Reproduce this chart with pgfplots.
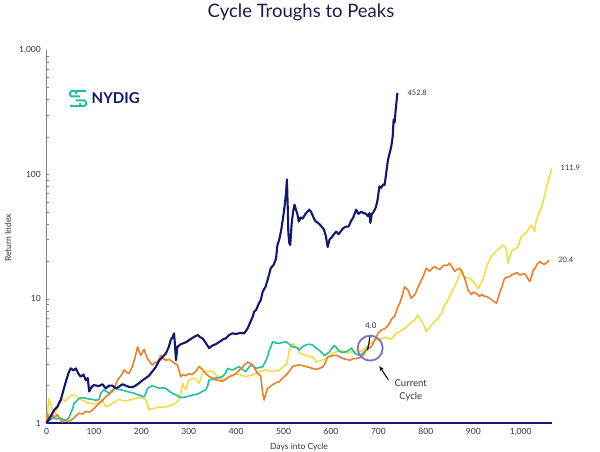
\documentclass[border=0pt]{standalone}
\usepackage{pgfplots}
\pgfplotsset{compat=1.18}
\usepackage{pgfplotstable}
\usetikzlibrary{arrows.meta}
\usepackage{fontspec}
\setmainfont{Lato}
\definecolor{cnavy}{HTML}{14186A}
\definecolor{corange}{HTML}{E8812E}
\definecolor{cyellow}{HTML}{F3DC4C}
\definecolor{cteal}{HTML}{22BFA3}
\definecolor{cpurple}{HTML}{7D70CF}
\definecolor{ctitle}{HTML}{1C1B4A}
\definecolor{ctick}{HTML}{333333}

\pgfplotstableread{
x y
0 1.0
8 1.12
16 1.27
23 1.35
30 1.53
40 2.1
46 2.5
51 2.75
57 2.65
62 2.75
67 2.5
72 2.36
78 2.45
83 2.2
87 2.3
90 1.79
95 1.95
100 2.02
110 1.98
118 2.05
125 1.9
132 2.0
139 2.0
146 1.9
153 1.96
160 2.05
167 2.0
174 1.95
181 1.94
188 2.0
195 2.09
202 2.2
209 2.29
216 2.4
223 2.59
230 2.8
238 3.2
245 3.4
252 3.64
258 4.1
262 4.65
266 4.9
269 5.26
271 4.2
273 3.2
276 4.1
283 4.3
290 4.4
296 4.5
301 4.65
310 4.9
319 5.1
324 4.9
329 4.8
336 4.4
343 4.0
350 4.2
357 4.3
365 4.5
372 4.7
378 4.8
385 5.1
392 5.26
400 5.2
408 5.3
417 5.26
424 5.76
430 6.5
435 7.2
438 7.9
442 8.1
447 9.0
452 9.8
456 11.4
462 12.5
467 14.5
473 17.6
479 18.7
484 21
487 27
491 30
495 35.7
499 45
502 55
505 70
507 91
509 50
510 33.6
512 28
514 27
517 40
520 50
523 57
526 52
529 48
532 41.7
536 45
540 44
546 48
550 50
554 52
558 50
563 45
567 42
571 41
575 40
580 38
585 36
589 32
593 26
597 30
601 31
606 33
611 34.6
616 33
621 35
626 37
632 38
637 38
642 42
647 45
653 52
658 48
663 50
668 49
674 48
678 46
681 48.7
683 40.7
686 48
690 50
695 55
698 62
700 70
702 80
706 78
710 83
713 82
716 100
720 130
724 150
727 167
730 200
732 275
734 260
736 318
738 380
740 452.8
}\navy

\pgfplotstableread{
x y
0 1.0
2 1.2
5 1.1
9 1.09
14 1.15
18 1.12
23 1.17
28 1.08
33 1.02
40 1.05
47 1.02
52 1.06
57 1.09
63 1.15
69 1.2
76 1.18
83 1.24
90 1.22
97 1.27
104 1.35
111 1.44
118 1.52
125 1.63
132 1.7
139 1.79
144 1.95
150 2.22
157 2.4
164 2.67
169 2.55
174 2.5
178 2.7
181 2.84
186 3.3
190 3.8
192 4.1
196 3.7
199 3.5
203 3.8
206 3.9
210 3.5
213 3.3
218 3.1
223 2.93
228 3.05
234 3.1
238 3.3
241 3.5
246 3.3
252 3.2
259 3.25
266 3.1
271 3.0
276 2.93
280 2.6
283 2.36
288 2.45
294 2.4
300 2.5
305 2.45
310 2.5
315 2.6
319 2.75
322 2.85
326 2.75
329 2.7
336 2.5
343 2.36
350 2.3
357 2.22
364 2.2
371 2.16
378 2.25
385 2.36
392 2.4
400 2.5
408 2.7
413 2.8
417 2.93
421 3.0
424 3.1
430 3.0
435 2.93
440 2.7
445 2.5
449 2.45
452 2.36
454 2.0
456 1.73
459 1.53
462 1.7
466 1.9
471 1.95
476 2.02
483 2.1
491 2.15
498 2.3
505 2.43
512 2.6
519 2.84
526 2.9
533 2.93
540 2.9
547 2.84
554 2.8
561 2.75
568 2.7
575 2.75
581 2.8
586 2.93
590 3.2
593 3.4
600 3.45
606 3.5
612 3.5
618 3.4
625 3.3
632 3.25
640 3.2
647 3.3
654 3.3
660 3.35
664 3.4
670 3.6
674 3.86
680 4.0
685 4.1
690 4.5
695 4.9
700 5.3
706 5.6
712 5.7
717 5.9
723 6.3
728 6.9
734 7.2
741 8.6
745 9.2
750 10.5
755 12.5
759 12.0
762 11.8
766 10.8
769 10.1
774 10.5
778 11.0
784 12.5
790 14
794 15
798 16.5
801 17.6
805 17.0
808 16.6
813 17.5
818 18.1
823 17.6
829 17.2
834 18.0
839 18.6
845 18.5
850 19.3
855 18.0
861 16.6
866 17.2
871 17.6
876 16.5
882 14.6
886 12.8
889 11.7
893 11.2
896 10.8
901 11.3
906 11.0
910 10.7
913 10.4
918 10.8
922 10.5
927 10.4
933 10.2
938 9.8
943 9.5
949 9.2
952 10.0
955 11.0
959 12.1
963 13.5
966 14.6
970 14.8
976 15.0
981 15.5
987 15.9
992 16.2
998 15.5
1003 15.7
1008 15.9
1013 15.0
1016 14.3
1019 13.7
1023 15.2
1026 16.9
1030 17.5
1035 19.0
1040 19.9
1045 19.2
1050 18.9
1055 19.5
1060 20.4
}\orange

\pgfplotstableread{
x y
0 1.0
3 1.3
5 1.58
8 1.45
12 1.3
16 1.25
19 1.2
24 1.4
30 1.58
35 1.55
40 1.5
47 1.6
54 1.68
60 1.66
65 1.62
72 1.55
79 1.5
86 1.45
93 1.44
100 1.42
107 1.44
113 1.5
118 1.55
121 1.45
125 1.35
132 1.38
139 1.44
146 1.5
153 1.55
160 1.52
167 1.5
174 1.53
181 1.55
188 1.58
195 1.6
202 1.58
209 1.55
213 1.4
216 1.27
220 1.3
223 1.3
230 1.32
238 1.35
245 1.33
252 1.35
259 1.38
266 1.4
273 1.45
280 1.55
284 1.8
287 2.09
290 1.95
294 1.85
298 2.1
301 2.22
306 2.25
312 2.3
317 2.2
322 2.09
326 2.3
329 2.59
335 2.6
340 2.59
345 2.62
350 2.59
357 2.45
364 2.3
371 2.25
378 2.22
385 2.35
392 2.45
399 2.47
406 2.45
413 2.4
420 2.36
428 2.4
435 2.45
442 2.52
449 2.59
456 2.62
463 2.67
470 2.63
477 2.59
484 2.62
491 2.67
498 2.8
505 2.93
509 3.3
512 3.86
515 4.1
519 4.37
522 4.25
526 4.1
530 4.0
533 3.64
540 3.58
547 3.5
554 3.45
561 3.4
565 3.3
568 3.1
575 3.15
582 3.2
589 3.3
596 3.45
604 3.64
611 3.75
618 3.86
625 3.75
632 3.64
639 3.7
646 3.75
653 3.75
661 3.75
668 3.9
675 4.1
681 4.3
687 4.45
694 4.7
700 4.6
706 4.75
711 4.85
716 4.9
721 4.8
727 4.7
732 5.0
737 5.26
744 5.4
751 5.6
758 5.9
766 6.3
771 6.5
776 6.7
780 7.1
783 7.4
787 7.0
790 6.6
794 6.3
798 5.8
801 5.43
805 5.7
811 6.1
816 6.4
822 6.7
828 7.2
833 7.6
836 8.1
840 8.9
845 9.5
850 10.4
857 11.8
864 13.3
870 15.2
875 17.0
878 15.5
882 14.6
887 14.8
892 14.6
898 14.0
903 13.3
907 12.6
910 12.0
915 13.0
920 14.0
924 16.0
928 18.1
933 20.0
938 21.8
945 23.5
952 24.7
958 26.0
963 27.0
967 26.0
970 24.7
973 19.3
976 21.0
980 23.5
983 24.7
988 25.0
994 26.0
998 29.0
1001 31.5
1006 32.5
1012 34.0
1017 36.5
1022 39.0
1026 37.0
1029 34.9
1033 43.0
1038 48.0
1044 55.0
1048 62.0
1051 70.0
1055 80.0
1058 90.0
1062 100
1065 111.9
}\yellow

\pgfplotstableread{
x y
0 1.0
7 1.05
14 1.1
21 1.08
28 1.1
35 1.07
42 1.05
47 1.1
51 1.2
55 1.3
58 1.44
63 1.5
69 1.58
76 1.6
83 1.58
90 1.56
97 1.55
104 1.52
111 1.55
114 1.73
118 1.8
121 1.85
126 1.8
132 1.73
137 1.8
143 1.9
150 1.88
157 1.85
164 1.82
171 1.79
178 1.76
186 1.73
190 1.7
195 1.68
200 1.65
206 1.62
210 1.75
213 1.9
218 1.95
223 2.0
230 1.95
238 1.9
245 1.92
252 1.9
259 1.8
266 1.73
273 1.68
280 1.62
287 1.6
294 1.62
301 1.65
308 1.68
315 1.7
322 1.73
329 1.8
336 1.85
340 2.0
343 2.22
350 2.25
357 2.3
364 2.32
371 2.36
377 2.5
382 2.75
387 2.7
392 2.67
399 2.75
406 2.84
413 2.7
420 2.59
425 2.75
431 2.93
437 2.85
442 2.75
449 2.8
456 2.84
463 3.2
467 3.5
470 3.86
474 4.2
477 4.5
484 4.4
491 4.37
498 4.45
505 4.5
512 4.3
519 4.1
526 4.05
530 4.0
533 3.86
540 4.1
547 4.25
554 4.3
561 4.25
568 4.0
575 3.86
581 3.65
586 3.5
592 3.6
597 3.75
602 4.0
607 4.2
612 4.0
618 3.75
625 3.7
632 3.75
638 3.85
643 4.0
647 3.8
650 3.64
655 3.55
661 3.5
666 3.6
670 3.75
675 3.9
678 4.1
}\teal

\begin{document}
\begin{tikzpicture}[x=1pt,y=1pt]
\useasboundingbox (0,0) rectangle (600,452);
\begin{axis}[
  at={(46.5pt,29pt)}, anchor=south west,
  scale only axis, width=505.5pt, height=373pt,
  ymode=log, xmin=0, xmax=1066, ymin=1, ymax=1000,
  axis x line*=bottom, axis y line*=left,
  x axis line style={draw=cnavy, line width=1.2pt, -},
  y axis line style={draw=gray, line width=1.6pt, -},
  major tick length=0pt,
  xtick={0,100,...,1000},
  xticklabels={0,100,200,300,400,500,600,700,800,900,{1,000}},
  ytick={1,10,100,1000},
  yticklabels={1,10,100,{1,000}},
  /pgf/number format/assume math mode=true,
  tick label style={font=\fontsize{8.5}{10}\selectfont, text=ctick},
  xticklabel style={inner sep=0pt, anchor=north, yshift=-5pt},
  yticklabel style={inner sep=0pt, anchor=east, xshift=-5.5pt},
  clip=false,
]
\addplot[cyellow, line width=1.6pt, line join=round] table {\yellow};
\addplot[cteal, line width=1.6pt, line join=round] table {\teal};
\addplot[corange, line width=1.6pt, line join=round] table {\orange};
\addplot[cnavy, line width=2.1pt, line join=round] table {\navy};
\addplot[black, line width=1.1pt] coordinates {(677,3.85) (680,4.4) (682,5.0)};
\node[draw=cpurple, circle, line width=1.8pt, minimum size=25pt, inner sep=0pt] at (axis cs:682.6,4.0) {};
\node[font=\fontsize{8}{9}\selectfont, text=ctick] at (axis cs:684,6.1) {4.0};
\draw[-{Stealth[length=5pt,width=4pt]}, line width=1pt, black] (axis cs:721,2.22) -- (axis cs:702,2.87);
\node[align=center, font=\fontsize{9.5}{13}\selectfont, text=ctick] at (axis cs:768,1.84) {Current\\Cycle};
\node[anchor=west, font=\fontsize{7.5}{9}\selectfont, text=ctick, inner sep=0pt] at (axis cs:761,452.8) {452.8};
\node[anchor=west, font=\fontsize{7.5}{9}\selectfont, text=ctick, inner sep=0pt] at (axis cs:1084,112) {111.9};
\node[anchor=west, font=\fontsize{7.5}{9}\selectfont, text=ctick, inner sep=0pt] at (axis cs:1079,20.4) {20.4};
\end{axis}
\node[text=ctitle, font=\fontsize{18.5}{21}\selectfont] at (301,440) {Cycle Troughs to Peaks};
\node[rotate=90, text=ctick, font=\fontsize{8.5}{10}\selectfont] at (8,214) {Return Index};
\node[text=ctick, font=\fontsize{8.5}{10}\selectfont] at (299,5) {Days into Cycle};
% logo
\draw[cteal, line width=2pt, rounded corners=1.5pt] (86,361) -- (70,361) -- (70,355.5) -- (80,355.5);
\draw[cteal, line width=2pt, rounded corners=1.5pt] (76,351.5) -- (86,351.5) -- (86,346) -- (70,346);
\draw[cteal, line width=2pt] (76,361) -- (76,358);
\draw[cteal, line width=2pt] (80,346) -- (80,349);
\node[text=cnavy, font=\fontsize{15}{17}\selectfont\bfseries, inner sep=0pt, anchor=west] at (91.5,354) {NYDIG};
\end{tikzpicture}
\end{document}
